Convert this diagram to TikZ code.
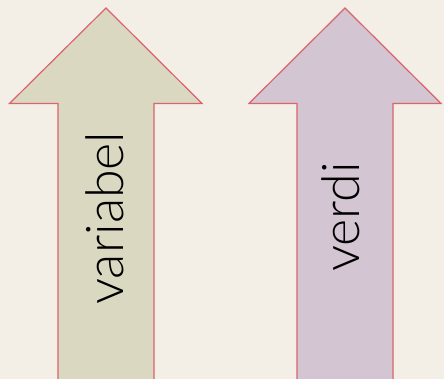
\documentclass[tikz,border=0pt]{standalone}
\usepackage{fontspec}
\setmainfont{Lato}[UprightFont={* Light}]
\definecolor{bg}{HTML}{F3EFE7}
\definecolor{olivefill}{HTML}{DAD8C1}
\definecolor{mauvefill}{HTML}{D3C5D2}
\definecolor{edgered}{HTML}{DB636C}
\tikzset{
  uparrow/.style={draw=edgered, line width=1.2pt, line join=miter},
  lbl/.style={rotate=90, anchor=base west, inner sep=0pt, font=\fontsize{52}{52}\selectfont, text=black}
}
\begin{document}
\begin{tikzpicture}[x=1pt,y=-1pt]
\fill[bg] (0,0) rectangle (444,379);
\useasboundingbox (0,0) rectangle (444,379);
\clip (0,0) rectangle (444,379);
\draw[uparrow, fill=olivefill] (106,8) -- (202,103.5) -- (154,103.5) -- (154,390) -- (58,390) -- (58,103.5) -- (9.5,103.5) -- cycle;
\draw[uparrow, fill=mauvefill] (345,8) -- (441,103.5) -- (393,103.5) -- (393,390) -- (297,390) -- (297,103.5) -- (249,103.5) -- cycle;
\node[lbl] (var) at (123,305) {variabel};
\node[lbl] (ver) at (359,272) {verdi};
\end{tikzpicture}
\end{document}
